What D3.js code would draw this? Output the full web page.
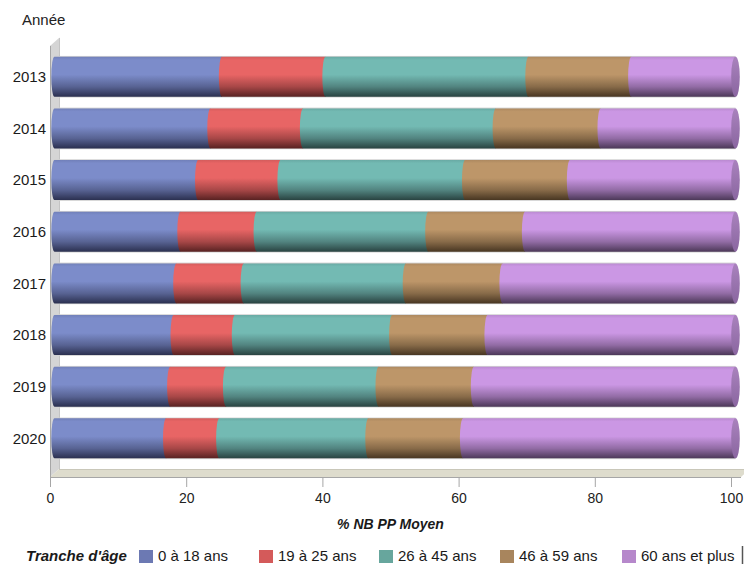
<!DOCTYPE html>
<html lang="fr">
<head>
<meta charset="utf-8">
<script src="https://cdn.jsdelivr.net/npm/d3@7/dist/d3.min.js"></script>
<style>
  html, body { margin: 0; padding: 0; background: #ffffff; }
  svg { display: block; font-family: "Liberation Sans", Arial, sans-serif; }
</style>
</head>
<body>
<svg id="chart" width="744" height="567"></svg>
<script>
// Années (catégories de l'axe vertical)
const years = ["2013", "2014", "2015", "2016", "2017", "2018", "2019", "2020"];
// Tranches d'âge (séries empilées)
const ageGroups = ["0 à 18 ans", "19 à 25 ans", "26 à 45 ans", "46 à 59 ans", "60 ans et plus"];
// Part (%) de chaque tranche, une liste par tranche, dans l'ordre des années
const share0to18   = [24.6, 22.9, 21.1, 18.5, 17.9, 17.5, 17.0, 16.4];
const share19to25  = [15.2, 13.6, 12.1, 11.2,  9.9,  9.0,  8.2,  7.8];
const share26to45  = [29.8, 28.3, 27.1, 25.2, 23.8, 23.1, 22.4, 21.9];
const share46to59  = [15.1, 15.4, 15.4, 14.2, 14.2, 14.0, 14.0, 13.9];
const share60plus  = [15.3, 19.8, 24.3, 30.9, 34.2, 36.4, 38.4, 40.0];
// Graduations de l'axe horizontal
const xTicks = [0, 20, 40, 60, 80, 100];

const seriesValues = [share0to18, share19to25, share26to45, share46to59, share60plus];
const topColors    = ["#7c8cca", "#e86565", "#73bab3", "#bd9669", "#cb97e4"];
const bottomColors = ["#2b3050", "#582222", "#294341", "#483622", "#4c3858"];
const swatchColors = ["#6c79b3", "#d45a5a", "#67a69d", "#a8855d", "#b688cb"];

const rows = years.map((y, i) => {
  const r = { year: y };
  ageGroups.forEach((g, k) => { r[g] = seriesValues[k][i]; });
  return r;
});
const stacked = d3.stack().keys(ageGroups)(rows);

const svg = d3.select("#chart");
const x = d3.scaleLinear().domain([0, 100]).range([50, 731]);
const y = d3.scaleBand().domain(years).range([50.9, 464.2])
  .paddingInner(0.2257).paddingOuter(0.1129);

const depthX = 9, depthY = -8;
const floorY = 477;
const shift = depthX / 2;   // barres placées au milieu de la profondeur

// Dégradés verticaux donnant l'effet cylindre
const defs = svg.append("defs");
ageGroups.forEach((g, k) => {
  const c = d3.color(topColors[k]);
  const grad = defs.append("linearGradient")
    .attr("id", "grad" + k).attr("x1", 0).attr("y1", 0).attr("x2", 0).attr("y2", 1);
  grad.append("stop").attr("offset", "0%").attr("stop-color", c.darker(0.25));
  grad.append("stop").attr("offset", "8%").attr("stop-color", c);
  grad.append("stop").attr("offset", "45%").attr("stop-color", c);
  grad.append("stop").attr("offset", "75%").attr("stop-color", d3.interpolateRgb(topColors[k], bottomColors[k])(0.45));
  grad.append("stop").attr("offset", "100%").attr("stop-color", bottomColors[k]);
});
const capGrad = defs.append("linearGradient")
  .attr("id", "capGrad").attr("x1", 0).attr("y1", 0).attr("x2", 0).attr("y2", 1);
capGrad.append("stop").attr("offset", "0%").attr("stop-color", "#a982bd");
capGrad.append("stop").attr("offset", "100%").attr("stop-color", "#8a66a0");

// Paroi gauche et sol (cadre 3D)
const x0 = x(0), x1 = x(100);
svg.append("path")
  .attr("d", `M${x0},${floorY} L${x0},${y.range()[0] - 5} L${x0 + depthX},${y.range()[0] - 5 + depthY} L${x0 + depthX},${floorY + depthY} Z`)
  .attr("fill", "#d5d5d5");
svg.append("path")
  .attr("d", `M${x0},${floorY} L${x0 + depthX},${floorY + depthY} L${x1 + depthX + 10},${floorY + depthY} L${x1 + 10},${floorY} Z`)
  .attr("fill", "#dedccd");
svg.append("line")
  .attr("x1", x0 + depthX).attr("x2", x1 + depthX + 10)
  .attr("y1", floorY + depthY + 0.5).attr("y2", floorY + depthY + 0.5)
  .attr("stroke", "#c9c7b9");
svg.append("line")
  .attr("x1", x0 + depthX + 0.5).attr("x2", x0 + depthX + 0.5)
  .attr("y1", y.range()[0] - 5 + depthY).attr("y2", floorY + depthY)
  .attr("stroke", "#c4c4c4");

// Axe horizontal
const xAxis = svg.append("g")
  .attr("transform", `translate(0,${floorY})`)
  .call(d3.axisBottom(x).tickValues(xTicks).tickFormat(d3.format("d")).tickSize(10).tickSizeOuter(0).tickPadding(6));
xAxis.select(".domain").attr("stroke", "#a6a6a6").attr("d", `M${x0},0.5H${x1 + 10}`);
xAxis.selectAll(".tick line").attr("stroke", "#a6a6a6");
xAxis.selectAll(".tick text").attr("fill", "#222").attr("font-size", 14).attr("font-family", "Liberation Sans, Arial, sans-serif");

// Ligne verticale gauche
svg.append("line")
  .attr("x1", x0 + 0.5).attr("x2", x0 + 0.5)
  .attr("y1", y.range()[0] - 5).attr("y2", floorY)
  .attr("stroke", "#a6a6a6");

// Libellés des années
svg.append("g").selectAll("text")
  .data(years).join("text")
  .attr("x", 46).attr("y", d => y(d) + y.bandwidth() / 2)
  .attr("dy", "0.36em").attr("text-anchor", "end")
  .attr("font-size", 15).attr("fill", "#1a1a1a")
  .text(d => d);

// Contour clair des cylindres
const bw = y.bandwidth();
svg.append("g").selectAll("rect")
  .data(years).join("rect")
  .attr("x", x(0) + shift).attr("width", x(100) - x(0))
  .attr("y", d => y(d) - 0.8).attr("height", bw + 1.6)
  .attr("fill", "#d2d2d2");

// Segments empilés : bord gauche elliptique recouvrant le segment précédent
const rx = 3.2;
const segPath = (a, b, top) =>
  `M${a},${top} H${b} V${top + bw} H${a} A${rx},${bw / 2} 0 0 1 ${a},${top} Z`;

stacked.forEach((layer, k) => {
  svg.append("g").selectAll("path")
    .data(layer).join("path")
    .attr("d", d => segPath(x(d[0]) + shift, x(d[1]) + shift, y(d.data.year)))
    .attr("fill", `url(#grad${k})`);
});

// Face d'extrémité droite des cylindres
svg.append("g").selectAll("ellipse")
  .data(stacked[stacked.length - 1]).join("ellipse")
  .attr("cx", d => x(d[1]) + shift).attr("cy", d => y(d.data.year) + bw / 2)
  .attr("rx", 4.3).attr("ry", bw / 2)
  .attr("fill", "url(#capGrad)");

// Titres
svg.append("text")
  .attr("x", 22).attr("y", 25)
  .attr("font-size", 15).attr("fill", "#222")
  .text("Année");

svg.append("text")
  .attr("x", (x0 + x1) / 2).attr("y", 529)
  .attr("text-anchor", "middle")
  .attr("font-size", 14).attr("font-weight", "bold").attr("font-style", "italic").attr("fill", "#1a1a1a")
  .text("% NB PP Moyen");

// Légende
const legend = svg.append("g");
legend.append("text")
  .attr("x", 26).attr("y", 561)
  .attr("font-size", 15).attr("font-weight", "bold").attr("font-style", "italic").attr("fill", "#1a1a1a")
  .text("Tranche d'âge");
const legendX = [139, 259, 379, 500, 622];
const items = legend.selectAll("g.item")
  .data(ageGroups).join("g").attr("class", "item")
  .attr("transform", (d, i) => `translate(${legendX[i]},0)`);
items.append("rect")
  .attr("x", 0).attr("y", 550).attr("width", 14).attr("height", 13)
  .attr("fill", (d, i) => swatchColors[i]);
items.append("text")
  .attr("x", 19).attr("y", 561)
  .attr("font-size", 15).attr("fill", "#1a1a1a")
  .text(d => d);
legend.append("line")
  .attr("x1", 742.5).attr("x2", 742.5).attr("y1", 546).attr("y2", 564)
  .attr("stroke", "#555").attr("stroke-width", 1.5);
</script>
</body>
</html>
